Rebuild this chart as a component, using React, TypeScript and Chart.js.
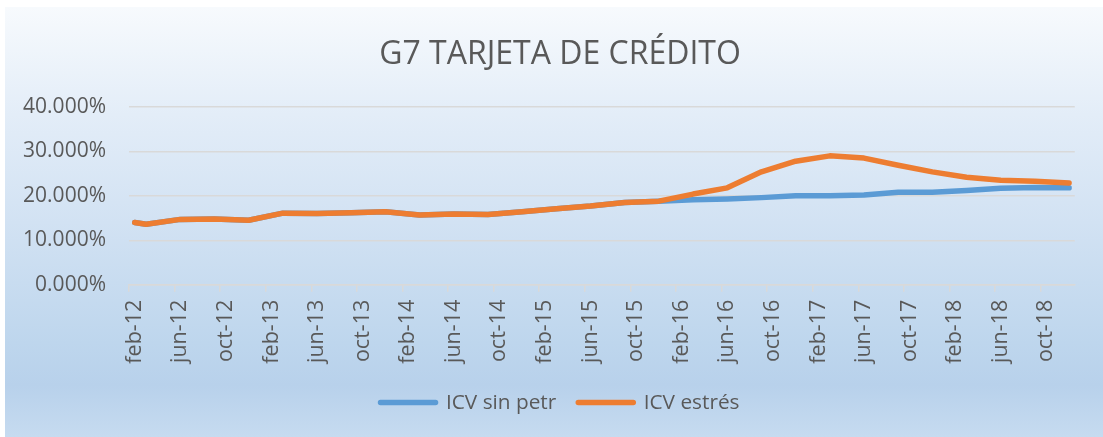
import React, { useEffect, useRef } from 'react';
import { Chart, registerables } from 'chart.js';

Chart.register(...registerables);

const TITLE = 'G7 TARJETA DE CRÉDITO';
const MONTH_NAMES = ['ene', 'feb', 'mar', 'abr', 'may', 'jun', 'jul', 'ago', 'sep', 'oct', 'nov', 'dic'];

// Monthly categories feb-12 .. dic-18
const categories: string[] = [];
for (let y = 12; y <= 18; y++) {
  for (let m = 0; m < 12; m++) {
    if (y === 12 && m < 1) continue;
    categories.push(`${MONTH_NAMES[m]}-${y}`);
  }
}

const obsMonths = [
  'feb-12', 'mar-12', 'jun-12', 'sep-12', 'dic-12',
  'mar-13', 'jun-13', 'sep-13', 'dic-13',
  'mar-14', 'jun-14', 'sep-14', 'dic-14',
  'mar-15', 'jun-15', 'sep-15', 'dic-15',
  'mar-16', 'jun-16', 'sep-16', 'dic-16',
  'mar-17', 'jun-17', 'sep-17', 'dic-17',
  'mar-18', 'jun-18', 'sep-18', 'dic-18',
];

const icvSinPetr = [
  14.0, 13.6, 14.7, 14.8, 14.5,
  16.1, 16.0, 16.2, 16.4,
  15.7, 15.9, 15.8, 16.4,
  17.1, 17.7, 18.5, 18.8,
  19.1, 19.3, 19.6, 20.0,
  20.0, 20.2, 20.8, 20.8,
  21.2, 21.7, 21.9, 21.8,
];

const icvEstres = [
  14.0, 13.6, 14.7, 14.8, 14.5,
  16.1, 16.0, 16.2, 16.4,
  15.7, 15.9, 15.8, 16.4,
  17.1, 17.7, 18.5, 18.8,
  20.4, 21.8, 25.4, 27.8,
  29.0, 28.5, 26.9, 25.4,
  24.2, 23.5, 23.3, 22.9,
];

const Y_TICKS = [0, 10, 20, 30, 40];

const toSeries = (vals: number[]) =>
  categories.map((c) => {
    const i = obsMonths.indexOf(c);
    return i >= 0 ? vals[i] : null;
  });

const TEXT = '#595959';
const GRID = '#d9d9d9';
const FONT = 'Open Sans';

export default function App() {
  const ref = useRef<HTMLCanvasElement>(null);

  useEffect(() => {
    document.body.style.margin = '0';
    const chart = new Chart(ref.current as HTMLCanvasElement, {
      type: 'line',
      data: {
        labels: categories,
        datasets: [
          {
            label: 'ICV sin petr',
            data: toSeries(icvSinPetr),
            borderColor: '#5b9bd5',
            backgroundColor: '#5b9bd5',
            borderWidth: 5.5,
            pointRadius: 0,
            spanGaps: true,
            tension: 0,
            borderCapStyle: 'round',
            borderJoinStyle: 'round',
            order: 2,
          },
          {
            label: 'ICV estrés',
            data: toSeries(icvEstres),
            borderColor: '#ed7d31',
            backgroundColor: '#ed7d31',
            borderWidth: 5.5,
            pointRadius: 0,
            spanGaps: true,
            tension: 0,
            borderCapStyle: 'round',
            borderJoinStyle: 'round',
            order: 1,
          },
        ],
      },
      options: {
        responsive: false,
        animation: false,
        layout: { padding: { left: 29, right: 17, top: 0, bottom: 14 } },
        plugins: {
          title: {
            display: true,
            text: TITLE,
            color: TEXT,
            font: { family: FONT, size: 32, weight: 'normal', lineHeight: 1.125 },
            padding: { top: 30, bottom: 34 },
          },
          legend: {
            position: 'bottom',
            labels: {
              boxWidth: 55,
              boxHeight: 0,
              padding: 22,
              color: TEXT,
              font: { family: FONT, size: 20.8 },
              sort: (a: any, b: any) => a.datasetIndex - b.datasetIndex,
            },
          },
          tooltip: { enabled: false },
        },
        scales: {
          x: {
            offset: true,
            grid: {
              offset: true,
              drawOnChartArea: false,
              tickLength: 7,
              lineWidth: 1.5,
              color: GRID,
              tickColor: (ctx: any) => (ctx.index % 4 === 0 ? GRID : 'rgba(0,0,0,0)'),
            },
            border: { display: true, color: GRID, width: 1.5 },
            ticks: {
              autoSkip: false,
              maxRotation: 90,
              minRotation: 90,
              padding: 8,
              color: TEXT,
              font: { family: FONT, size: 21.5 },
              callback: (_v: any, i: number) => (i % 4 === 0 ? categories[i] : ''),
            },
            afterFit: (s: any) => {
              s.height = 85.5;
            },
          },
          y: {
            min: Y_TICKS[0],
            max: Y_TICKS[Y_TICKS.length - 1],
            grid: { color: GRID, lineWidth: 1.5, drawTicks: false },
            border: { display: false },
            ticks: {
              stepSize: 10,
              padding: 23,
              color: TEXT,
              font: { family: FONT, size: 21 },
              callback: (v: any) => Number(v).toFixed(3) + '%',
            },
            afterFit: (s: any) => {
              s.width = 95;
              // let the tick labels extend past the axis box (no clipping)
              s._computeLabelArea = () => undefined;
            },
          },
        },
      },
    } as any);
    return () => chart.destroy();
  }, []);

  return (
    <div style={{ position: 'relative', width: 1103, height: 437, background: '#ffffff' }}>
      <div
        style={{
          position: 'absolute',
          left: 5,
          top: 7,
          width: 1098,
          height: 430,
          background:
            'linear-gradient(to bottom, #f7fafd 0%, #e3edf8 25%, #d2e2f3 50%, #bed6ed 78%, #b8d1eb 88%, #c6dbf0 100%)',
        }}
      >
        <canvas ref={ref} width={1098} height={430} style={{ display: 'block' }} />
      </div>
    </div>
  );
}
